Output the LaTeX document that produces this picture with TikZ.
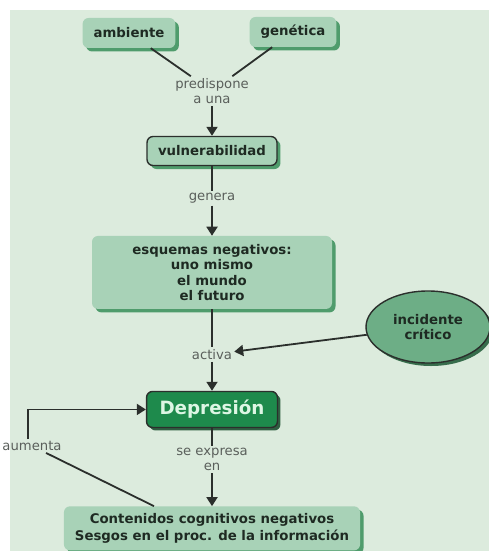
\documentclass[tikz,border=0pt]{standalone}
\usepackage{fontspec}
\setmainfont{DejaVu Sans}
\usepackage{tikz}
\usetikzlibrary{shapes.geometric, arrows.meta, positioning, shadows}
\definecolor{bgcol}{HTML}{DCEBDD}
\definecolor{boxcol}{HTML}{A8D2B7}
\definecolor{shadowcol}{HTML}{4F9C6C}
\definecolor{ovalcol}{HTML}{6DAE86}
\definecolor{depcol}{HTML}{1E8A4C}
\definecolor{deptext}{HTML}{DDF6E4}
\definecolor{inkcol}{HTML}{1E2A22}
\definecolor{tagcol}{HTML}{5A5F5B}
\definecolor{linecol}{HTML}{2B2F2C}
\tikzstyle{block} = [rectangle, rounded corners=6pt, minimum height=30pt, inner xsep=11pt, align=center, fill=boxcol, text=inkcol, font=\fontsize{13.3}{15.5}\selectfont\bfseries, drop shadow={shadow xshift=3.5pt, shadow yshift=-3.5pt, fill=shadowcol, opacity=1}]
\tikzstyle{oval} = [ellipse, minimum width=124pt, minimum height=72pt, align=center, fill=ovalcol, draw=linecol, line width=1.4pt, text=inkcol, font=\fontsize{13.3}{15.5}\selectfont\bfseries, drop shadow={shadow xshift=3pt, shadow yshift=-3pt, fill=shadowcol!70!black, opacity=1}]
\tikzstyle{depbox} = [rectangle, rounded corners=6pt, minimum height=36pt, inner xsep=13pt, fill=depcol, draw=linecol, line width=1.4pt, text=deptext, font=\fontsize{18.3}{21}\selectfont\bfseries, drop shadow={shadow xshift=3pt, shadow yshift=-3pt, fill=shadowcol!60!black, opacity=1}]
\tikzstyle{linktext} = [inner sep=2pt, align=center, text=tagcol, font=\fontsize{13.2}{15}\selectfont]
\tikzstyle{line} = [draw=linecol, line width=1.8pt]
\tikzstyle{arrow} = [draw=linecol, line width=1.8pt, -{Triangle[width=11pt, length=9pt]}]

\begin{document}
\begin{tikzpicture}[x=1pt, y=-1pt]
  \useasboundingbox (0,0) rectangle (489,551);
  \clip (0,0) rectangle (489,551);
  \fill[bgcol] (10,10) rectangle (489,551);

  \node[block] (amb) at (129,33) {ambiente};
  \node[block] (gen) at (293,32) {genética};
  \node[linktext] (pred) at (212,91) {predispone\\a una};
  \node[block, draw=linecol, line width=1.4pt, minimum height=29pt, below=30pt of pred] (vul) {vulnerabilidad};
  \node[linktext, below=25pt of vul] (genera) {genera};
  \node[block, minimum width=240pt, minimum height=73pt, below=30pt of genera] (esq) {esquemas negativos:\\uno mismo\\el mundo\\el futuro};
  \node[linktext, below=38pt of esq] (act) {activa};
  \node[oval] (inc) at (428,327) {incidente\\crítico};
  \node[depbox, below=29pt of act] (dep) {Depresión};
  \node[linktext, below=18pt of dep] (expr) {se expresa\\en};
  \node[block, minimum height=44pt, font=\fontsize{13.3}{16.5}\selectfont\bfseries, below=33pt of expr] (cont) {Contenidos cognitivos negativos\\Sesgos en el proc. de la información};
  \node[linktext] (aum) at (32,446) {aumenta};

  \draw[line] (amb) -- (pred);
  \draw[line] (gen) -- (pred);
  \draw[arrow] (pred) -- (vul);
  \draw[line] (vul) -- (genera);
  \draw[arrow] (genera) -- (esq);
  \draw[line] (esq) -- (act);
  \draw[arrow] (inc) -- (act);
  \draw[arrow] (act) -- (dep);
  \draw[line] (dep) -- (expr);
  \draw[arrow] (expr) -- (cont);
  \draw[arrow] ([xshift=-4pt]aum.north) |- (dep.west);
  \draw[line] (aum) -- ([xshift=-58pt]cont.north);
\end{tikzpicture}
\end{document}
